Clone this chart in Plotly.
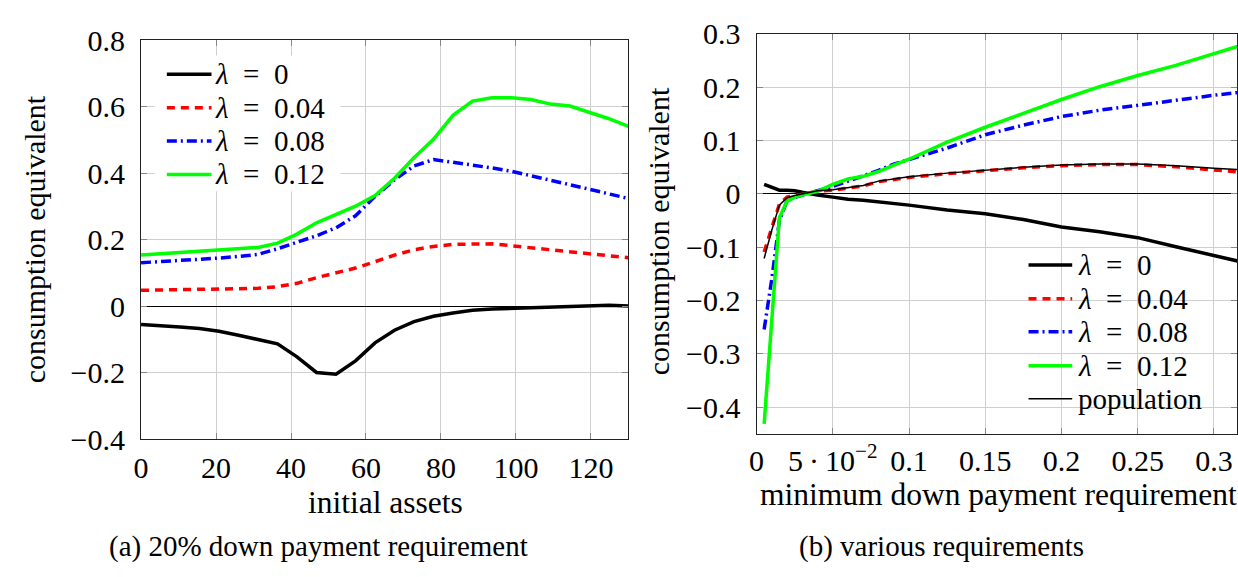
import plotly.graph_objects as go

W, H = 1238, 577
FONT = "Liberation Serif, Times New Roman, serif"

# ---------------- data: panel (a) ----------------
assets = [0, 5.2, 10.4, 15.6, 20.8, 26, 31.2, 36.4, 41.6, 46.8, 52, 57.2, 62.4,
          67.6, 72.8, 78, 83.2, 88.4, 93.6, 98.8, 104, 109.2, 114.4, 119.6, 124.8, 130]
a_lam0 = [-0.055, -0.058, -0.062, -0.067, -0.075, -0.087, -0.101, -0.113, -0.152, -0.199,
          -0.204, -0.164, -0.110, -0.072, -0.046, -0.030, -0.020, -0.012, -0.008, -0.006,
          -0.005, -0.003, -0.001, 0.002, 0.003, 0.001]
a_lam004 = [0.048, 0.049, 0.050, 0.050, 0.051, 0.052, 0.054, 0.059, 0.069, 0.086, 0.100,
            0.115, 0.134, 0.154, 0.170, 0.180, 0.186, 0.187, 0.188, 0.182, 0.176, 0.171,
            0.165, 0.158, 0.152, 0.146]
a_lam008 = [0.131, 0.134, 0.138, 0.141, 0.145, 0.150, 0.156, 0.173, 0.193, 0.212, 0.236,
            0.272, 0.330, 0.380, 0.422, 0.441, 0.433, 0.425, 0.416, 0.406, 0.393, 0.380,
            0.366, 0.352, 0.338, 0.324]
a_lam012 = [0.154, 0.158, 0.162, 0.165, 0.168, 0.172, 0.177, 0.190, 0.217, 0.251, 0.277,
            0.301, 0.333, 0.385, 0.447, 0.502, 0.574, 0.617, 0.627, 0.627, 0.622, 0.608,
            0.602, 0.583, 0.564, 0.541]

# ---------------- data: panel (b) ----------------
req = [0.005, 0.01, 0.015, 0.02, 0.025, 0.03, 0.035, 0.04, 0.05, 0.06, 0.07, 0.08, 0.09,
       0.1, 0.125, 0.15, 0.175, 0.2, 0.225, 0.25, 0.275, 0.3, 0.325]
b_lam0 = [0.018, 0.012, 0.007, 0.007, 0.006, 0.003, 0.000, -0.002, -0.006, -0.010, -0.012,
          -0.015, -0.017, -0.021, -0.030, -0.037, -0.048, -0.062, -0.071, -0.082, -0.099,
          -0.115, -0.132]
b_lam004 = [-0.109, -0.062, -0.019, -0.006, -0.003, -0.001, 0.002, 0.005, 0.007, 0.011,
            0.015, 0.023, 0.027, 0.031, 0.038, 0.044, 0.049, 0.053, 0.055, 0.055, 0.051,
            0.045, 0.039]
b_lam008 = [-0.254, -0.160, -0.050, -0.013, -0.007, -0.002, 0.002, 0.006, 0.014, 0.024,
            0.034, 0.044, 0.056, 0.065, 0.086, 0.111, 0.129, 0.145, 0.157, 0.166, 0.176,
            0.185, 0.193]
b_lam012 = [-0.431, -0.237, -0.044, -0.014, -0.006, -0.002, 0.002, 0.005, 0.018, 0.028,
            0.033, 0.042, 0.054, 0.065, 0.097, 0.125, 0.151, 0.177, 0.201, 0.222, 0.241,
            0.262, 0.285]
b_pop = [-0.121, -0.068, -0.021, -0.007, -0.003, 0.000, 0.003, 0.006, 0.008, 0.012, 0.016,
         0.024, 0.028, 0.032, 0.039, 0.045, 0.050, 0.054, 0.056, 0.056, 0.053, 0.048, 0.044]

# ---------------- tick labels & texts ----------------
a_xticks = [0, 20, 40, 60, 80, 100, 120]
a_xtext = ["0", "20", "40", "60", "80", "100", "120"]
a_yticks = [-0.4, -0.2, 0, 0.2, 0.4, 0.6, 0.8]
a_ytext = ["\u22120.4", "\u22120.2", "0", "0.2", "0.4", "0.6", "0.8"]
b_xticks = [0, 0.05, 0.1, 0.15, 0.2, 0.25, 0.3]
b_xtext = ["0", "5\u2009\u00b7\u200910<sup>\u22122</sup>", "0.1", "0.15", "0.2", "0.25", "0.3"]
b_yticks = [-0.4, -0.3, -0.2, -0.1, 0, 0.1, 0.2, 0.3]
b_ytext = ["\u22120.4", "\u22120.3", "\u22120.2", "\u22120.1", "0", "0.1", "0.2", "0.3"]
labels = ["<i>\u03bb</i>\u2002=\u20020", "<i>\u03bb</i>\u2002=\u20020.04",
          "<i>\u03bb</i>\u2002=\u20020.08", "<i>\u03bb</i>\u2002=\u20020.12", "population"]

# ---------------- styles ----------------
styles = [
    dict(color="#000000", width=3.5, dash="solid"),
    dict(color="#ff0000", width=3.5, dash="8px,6px"),
    dict(color="#0000ff", width=3.5, dash="10px,4px,2px,4px"),
    dict(color="#00ff00", width=3.5, dash="solid"),
    dict(color="#000000", width=1.5, dash="solid"),
]

fig = go.Figure()
for ys, st, nm in zip([a_lam0, a_lam004, a_lam008, a_lam012], styles, labels):
    fig.add_trace(go.Scatter(x=assets, y=ys, mode="lines", line=st, name=nm,
                             showlegend=False, xaxis="x", yaxis="y"))
for ys, st, nm in zip([b_lam0, b_lam004, b_lam008, b_lam012, b_pop], styles, labels):
    fig.add_trace(go.Scatter(x=req, y=ys, mode="lines", line=st, name=nm,
                             showlegend=False, xaxis="x2", yaxis="y2"))

def px(x):
    return x / W

def py(y):
    return 1 - y / H

axis_common = dict(showgrid=True, gridcolor="#cfcfcf", gridwidth=1,
                   showline=True, linecolor="#222222", linewidth=1.2, mirror="allticks",
                   ticks="inside", ticklen=6, tickcolor="#888888", tickwidth=1,
                   tickfont=dict(family=FONT, size=30, color="black"))

fig.update_layout(
    width=W, height=H, margin=dict(l=0, r=0, t=0, b=0),
    paper_bgcolor="white", plot_bgcolor="white", showlegend=False,
    xaxis=dict(domain=[px(134), px(625)], range=[0, 130], tickvals=a_xticks,
               ticktext=a_xtext, zeroline=False, anchor="y", ticklabelstandoff=2,
               **axis_common),
    yaxis=dict(domain=[py(449), py(25.7)], range=[-0.4, 0.8], tickvals=a_yticks,
               ticktext=a_ytext, zeroline=True, zerolinecolor="black", zerolinewidth=1,
               anchor="x", ticklabelstandoff=9, **axis_common),
    xaxis2=dict(domain=[px(754), 1.0], range=[0, 0.3151], tickvals=b_xticks,
                ticktext=b_xtext, zeroline=False, anchor="y2", ticklabelstandoff=0,
                **axis_common),
    yaxis2=dict(domain=[py(443.3), py(19)], range=[-0.45, 0.3], tickvals=b_yticks,
                ticktext=b_ytext, zeroline=True, zerolinecolor="black", zerolinewidth=1,
                anchor="x2", ticklabelstandoff=9, **axis_common),
)

shapes = []
annotations = []
# legend (a): white box
shapes.append(dict(type="rect", xref="paper", yref="paper", x0=px(148), x1=px(335),
                   y0=py(186), y1=py(42), fillcolor="white", line=dict(width=0),
                   layer="above"))
rows_a = [61.7, 97.3, 132.7, 168.0]
for yy, st, nm in zip(rows_a, styles[:4], labels[:4]):
    shapes.append(dict(type="line", xref="paper", yref="paper", x0=px(160), x1=px(205),
                       y0=py(yy), y1=py(yy), line=st, layer="above"))
    annotations.append(dict(text=nm, xref="paper", yref="paper", x=px(207), y=py(yy),
                            xanchor="left", yanchor="middle", showarrow=False,
                            font=dict(family=FONT, size=29, color="black")))
rows_b = [264, 300, 335, 371, 406]
for yy, st, nm in zip(rows_b, styles, labels):
    shapes.append(dict(type="line", xref="paper", yref="paper", x0=px(1028), x1=px(1072),
                       y0=py(yy), y1=py(yy), line=st, layer="above"))
    annotations.append(dict(text=nm, xref="paper", yref="paper", x=px(1076), y=py(yy),
                            xanchor="left", yanchor="middle", showarrow=False,
                            font=dict(family=FONT, size=29, color="black")))

def text(t, x, y, size=29, angle=0):
    annotations.append(dict(text=t, xref="paper", yref="paper", x=px(x), y=py(y),
                            xanchor="center", yanchor="middle", showarrow=False,
                            textangle=angle, font=dict(family=FONT, size=size, color="black")))

text("consumption equivalent", 27, 237, size=30, angle=-90)
text("consumption equivalent", 656, 228, size=30, angle=-90)
text("initial assets", 380, 516, size=31.5)
text("minimum down payment requirement", 998, 508, size=31.5)
text("(a) 20% down payment requirement", 313, 563, size=29)
text("(b) various requirements", 940, 563, size=29)

fig.update_layout(shapes=shapes, annotations=annotations)
fig.write_html("out.html")
